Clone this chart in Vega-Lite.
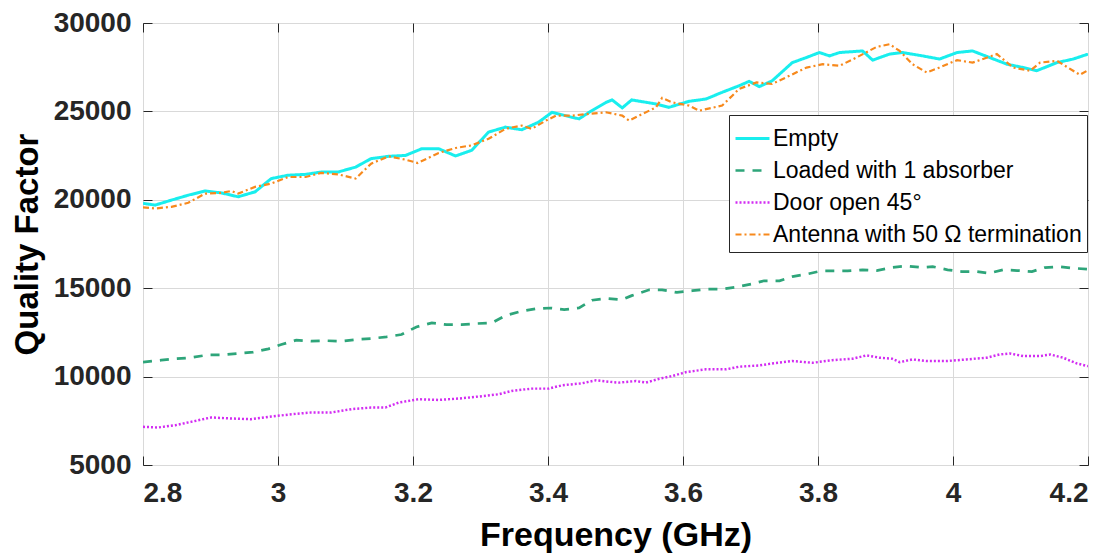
{
  "$schema": "https://vega.github.io/schema/vega-lite/v6.json",
  "width": 945,
  "height": 442,
  "autosize": {"type": "none"},
  "padding": {"left": 143, "top": 23, "right": 29, "bottom": 90},
  "background": "white",
  "config": {
    "view": {"stroke": "#262626", "strokeWidth": 1},
    "font": "Arial",
    "axis": {
      "labelFont": "Arial",
      "labelFontWeight": "bold",
      "labelFontSize": 28,
      "labelColor": "#262626",
      "titleFont": "Arial",
      "titleFontWeight": "bold",
      "titleColor": "#000000",
      "tickColor": "#262626",
      "tickWidth": 1,
      "domain": false,
      "gridColor": "#d9d9d9",
      "gridWidth": 1
    },
    "legend": {
      "orient": "none",
      "legendX": 586,
      "legendY": 92,
      "title": null,
      "labelFont": "Arial",
      "labelFontSize": 23,
      "labelColor": "#000000",
      "labelLimit": 600,
      "symbolType": "stroke",
      "symbolSize": 1156,
      "labelOffset": 2,
      "fillColor": "white",
      "strokeColor": "#262626",
      "padding": 5,
      "rowPadding": 1
    }
  },
  "data": {
    "values": [
      {"series": "Empty", "f": 2.800, "q": 19800},
      {"series": "Empty", "f": 2.818, "q": 19700},
      {"series": "Empty", "f": 2.842, "q": 19980},
      {"series": "Empty", "f": 2.867, "q": 20260},
      {"series": "Empty", "f": 2.892, "q": 20500},
      {"series": "Empty", "f": 2.916, "q": 20390},
      {"series": "Empty", "f": 2.941, "q": 20170},
      {"series": "Empty", "f": 2.966, "q": 20450},
      {"series": "Empty", "f": 2.990, "q": 21200},
      {"series": "Empty", "f": 3.015, "q": 21390},
      {"series": "Empty", "f": 3.041, "q": 21440},
      {"series": "Empty", "f": 3.064, "q": 21570},
      {"series": "Empty", "f": 3.089, "q": 21570},
      {"series": "Empty", "f": 3.115, "q": 21850},
      {"series": "Empty", "f": 3.138, "q": 22330},
      {"series": "Empty", "f": 3.164, "q": 22460},
      {"series": "Empty", "f": 3.189, "q": 22510},
      {"series": "Empty", "f": 3.213, "q": 22890},
      {"series": "Empty", "f": 3.238, "q": 22890},
      {"series": "Empty", "f": 3.263, "q": 22480},
      {"series": "Empty", "f": 3.287, "q": 22800},
      {"series": "Empty", "f": 3.312, "q": 23830},
      {"series": "Empty", "f": 3.337, "q": 24110},
      {"series": "Empty", "f": 3.361, "q": 23960},
      {"series": "Empty", "f": 3.386, "q": 24390},
      {"series": "Empty", "f": 3.406, "q": 24950},
      {"series": "Empty", "f": 3.435, "q": 24670},
      {"series": "Empty", "f": 3.446, "q": 24580},
      {"series": "Empty", "f": 3.461, "q": 24950},
      {"series": "Empty", "f": 3.486, "q": 25510},
      {"series": "Empty", "f": 3.495, "q": 25650},
      {"series": "Empty", "f": 3.510, "q": 25200},
      {"series": "Empty", "f": 3.524, "q": 25650},
      {"series": "Empty", "f": 3.560, "q": 25420},
      {"series": "Empty", "f": 3.579, "q": 25230},
      {"series": "Empty", "f": 3.609, "q": 25570},
      {"series": "Empty", "f": 3.634, "q": 25700},
      {"series": "Empty", "f": 3.658, "q": 26080},
      {"series": "Empty", "f": 3.683, "q": 26450},
      {"series": "Empty", "f": 3.698, "q": 26700},
      {"series": "Empty", "f": 3.713, "q": 26400},
      {"series": "Empty", "f": 3.732, "q": 26730},
      {"series": "Empty", "f": 3.762, "q": 27760},
      {"series": "Empty", "f": 3.783, "q": 28050},
      {"series": "Empty", "f": 3.802, "q": 28330},
      {"series": "Empty", "f": 3.817, "q": 28140},
      {"series": "Empty", "f": 3.832, "q": 28330},
      {"series": "Empty", "f": 3.866, "q": 28420},
      {"series": "Empty", "f": 3.881, "q": 27900},
      {"series": "Empty", "f": 3.906, "q": 28240},
      {"series": "Empty", "f": 3.925, "q": 28330},
      {"series": "Empty", "f": 3.955, "q": 28140},
      {"series": "Empty", "f": 3.980, "q": 27960},
      {"series": "Empty", "f": 4.006, "q": 28330},
      {"series": "Empty", "f": 4.029, "q": 28420},
      {"series": "Empty", "f": 4.054, "q": 28050},
      {"series": "Empty", "f": 4.080, "q": 27670},
      {"series": "Empty", "f": 4.104, "q": 27480},
      {"series": "Empty", "f": 4.124, "q": 27300},
      {"series": "Empty", "f": 4.154, "q": 27760},
      {"series": "Empty", "f": 4.178, "q": 27960},
      {"series": "Empty", "f": 4.200, "q": 28240},

      {"series": "Loaded with 1 absorber", "f": 2.800, "q": 10820},
      {"series": "Loaded with 1 absorber", "f": 2.827, "q": 10930},
      {"series": "Loaded with 1 absorber", "f": 2.849, "q": 11010},
      {"series": "Loaded with 1 absorber", "f": 2.871, "q": 11070},
      {"series": "Loaded with 1 absorber", "f": 2.897, "q": 11235},
      {"series": "Loaded with 1 absorber", "f": 2.919, "q": 11235},
      {"series": "Loaded with 1 absorber", "f": 2.941, "q": 11310},
      {"series": "Loaded with 1 absorber", "f": 2.963, "q": 11380},
      {"series": "Loaded with 1 absorber", "f": 2.986, "q": 11570},
      {"series": "Loaded with 1 absorber", "f": 3.005, "q": 11815},
      {"series": "Loaded with 1 absorber", "f": 3.027, "q": 12060},
      {"series": "Loaded with 1 absorber", "f": 3.049, "q": 12000},
      {"series": "Loaded with 1 absorber", "f": 3.072, "q": 12030},
      {"series": "Loaded with 1 absorber", "f": 3.094, "q": 12000},
      {"series": "Loaded with 1 absorber", "f": 3.116, "q": 12100},
      {"series": "Loaded with 1 absorber", "f": 3.138, "q": 12150},
      {"series": "Loaded with 1 absorber", "f": 3.161, "q": 12250},
      {"series": "Loaded with 1 absorber", "f": 3.183, "q": 12380},
      {"series": "Loaded with 1 absorber", "f": 3.205, "q": 12810},
      {"series": "Loaded with 1 absorber", "f": 3.228, "q": 13040},
      {"series": "Loaded with 1 absorber", "f": 3.250, "q": 12940},
      {"series": "Loaded with 1 absorber", "f": 3.272, "q": 12940},
      {"series": "Loaded with 1 absorber", "f": 3.294, "q": 13000},
      {"series": "Loaded with 1 absorber", "f": 3.317, "q": 13040},
      {"series": "Loaded with 1 absorber", "f": 3.337, "q": 13450},
      {"series": "Loaded with 1 absorber", "f": 3.360, "q": 13690},
      {"series": "Loaded with 1 absorber", "f": 3.382, "q": 13840},
      {"series": "Loaded with 1 absorber", "f": 3.404, "q": 13880},
      {"series": "Loaded with 1 absorber", "f": 3.424, "q": 13790},
      {"series": "Loaded with 1 absorber", "f": 3.446, "q": 13880},
      {"series": "Loaded with 1 absorber", "f": 3.465, "q": 14320},
      {"series": "Loaded with 1 absorber", "f": 3.486, "q": 14420},
      {"series": "Loaded with 1 absorber", "f": 3.510, "q": 14350},
      {"series": "Loaded with 1 absorber", "f": 3.524, "q": 14580},
      {"series": "Loaded with 1 absorber", "f": 3.550, "q": 14910},
      {"series": "Loaded with 1 absorber", "f": 3.569, "q": 14910},
      {"series": "Loaded with 1 absorber", "f": 3.591, "q": 14760},
      {"series": "Loaded with 1 absorber", "f": 3.614, "q": 14860},
      {"series": "Loaded with 1 absorber", "f": 3.636, "q": 14950},
      {"series": "Loaded with 1 absorber", "f": 3.658, "q": 14950},
      {"series": "Loaded with 1 absorber", "f": 3.679, "q": 15060},
      {"series": "Loaded with 1 absorber", "f": 3.701, "q": 15230},
      {"series": "Loaded with 1 absorber", "f": 3.720, "q": 15420},
      {"series": "Loaded with 1 absorber", "f": 3.743, "q": 15420},
      {"series": "Loaded with 1 absorber", "f": 3.762, "q": 15660},
      {"series": "Loaded with 1 absorber", "f": 3.784, "q": 15800},
      {"series": "Loaded with 1 absorber", "f": 3.805, "q": 15980},
      {"series": "Loaded with 1 absorber", "f": 3.824, "q": 15980},
      {"series": "Loaded with 1 absorber", "f": 3.844, "q": 15980},
      {"series": "Loaded with 1 absorber", "f": 3.866, "q": 16040},
      {"series": "Loaded with 1 absorber", "f": 3.887, "q": 16000},
      {"series": "Loaded with 1 absorber", "f": 3.909, "q": 16170},
      {"series": "Loaded with 1 absorber", "f": 3.931, "q": 16260},
      {"series": "Loaded with 1 absorber", "f": 3.954, "q": 16170},
      {"series": "Loaded with 1 absorber", "f": 3.970, "q": 16220},
      {"series": "Loaded with 1 absorber", "f": 3.992, "q": 16040},
      {"series": "Loaded with 1 absorber", "f": 4.013, "q": 15940},
      {"series": "Loaded with 1 absorber", "f": 4.035, "q": 15940},
      {"series": "Loaded with 1 absorber", "f": 4.054, "q": 15850},
      {"series": "Loaded with 1 absorber", "f": 4.074, "q": 16040},
      {"series": "Loaded with 1 absorber", "f": 4.095, "q": 16000},
      {"series": "Loaded with 1 absorber", "f": 4.117, "q": 15940},
      {"series": "Loaded with 1 absorber", "f": 4.136, "q": 16170},
      {"series": "Loaded with 1 absorber", "f": 4.158, "q": 16220},
      {"series": "Loaded with 1 absorber", "f": 4.178, "q": 16130},
      {"series": "Loaded with 1 absorber", "f": 4.200, "q": 16080},

      {"series": "Door open 45°", "f": 2.800, "q": 7160},
      {"series": "Door open 45°", "f": 2.822, "q": 7120},
      {"series": "Door open 45°", "f": 2.848, "q": 7250},
      {"series": "Door open 45°", "f": 2.871, "q": 7440},
      {"series": "Door open 45°", "f": 2.901, "q": 7690},
      {"series": "Door open 45°", "f": 2.931, "q": 7630},
      {"series": "Door open 45°", "f": 2.960, "q": 7590},
      {"series": "Door open 45°", "f": 2.990, "q": 7740},
      {"series": "Door open 45°", "f": 3.020, "q": 7870},
      {"series": "Door open 45°", "f": 3.049, "q": 7970},
      {"series": "Door open 45°", "f": 3.079, "q": 7970},
      {"series": "Door open 45°", "f": 3.109, "q": 8160},
      {"series": "Door open 45°", "f": 3.138, "q": 8250},
      {"series": "Door open 45°", "f": 3.159, "q": 8250},
      {"series": "Door open 45°", "f": 3.179, "q": 8530},
      {"series": "Door open 45°", "f": 3.208, "q": 8720},
      {"series": "Door open 45°", "f": 3.238, "q": 8680},
      {"series": "Door open 45°", "f": 3.268, "q": 8760},
      {"series": "Door open 45°", "f": 3.297, "q": 8870},
      {"series": "Door open 45°", "f": 3.327, "q": 9000},
      {"series": "Door open 45°", "f": 3.346, "q": 9190},
      {"series": "Door open 45°", "f": 3.376, "q": 9320},
      {"series": "Door open 45°", "f": 3.401, "q": 9320},
      {"series": "Door open 45°", "f": 3.421, "q": 9510},
      {"series": "Door open 45°", "f": 3.450, "q": 9620},
      {"series": "Door open 45°", "f": 3.471, "q": 9790},
      {"series": "Door open 45°", "f": 3.480, "q": 9750},
      {"series": "Door open 45°", "f": 3.495, "q": 9690},
      {"series": "Door open 45°", "f": 3.505, "q": 9660},
      {"series": "Door open 45°", "f": 3.530, "q": 9750},
      {"series": "Door open 45°", "f": 3.545, "q": 9660},
      {"series": "Door open 45°", "f": 3.565, "q": 9880},
      {"series": "Door open 45°", "f": 3.584, "q": 10030},
      {"series": "Door open 45°", "f": 3.605, "q": 10260},
      {"series": "Door open 45°", "f": 3.634, "q": 10410},
      {"series": "Door open 45°", "f": 3.664, "q": 10410},
      {"series": "Door open 45°", "f": 3.683, "q": 10560},
      {"series": "Door open 45°", "f": 3.713, "q": 10630},
      {"series": "Door open 45°", "f": 3.732, "q": 10740},
      {"series": "Door open 45°", "f": 3.762, "q": 10880},
      {"series": "Door open 45°", "f": 3.792, "q": 10780},
      {"series": "Door open 45°", "f": 3.821, "q": 10930},
      {"series": "Door open 45°", "f": 3.851, "q": 11010},
      {"series": "Door open 45°", "f": 3.872, "q": 11200},
      {"series": "Door open 45°", "f": 3.891, "q": 11070},
      {"series": "Door open 45°", "f": 3.910, "q": 11010},
      {"series": "Door open 45°", "f": 3.921, "q": 10820},
      {"series": "Door open 45°", "f": 3.940, "q": 10970},
      {"series": "Door open 45°", "f": 3.961, "q": 10880},
      {"series": "Door open 45°", "f": 3.991, "q": 10880},
      {"series": "Door open 45°", "f": 4.020, "q": 10970},
      {"series": "Door open 45°", "f": 4.050, "q": 11070},
      {"series": "Door open 45°", "f": 4.069, "q": 11250},
      {"series": "Door open 45°", "f": 4.084, "q": 11310},
      {"series": "Door open 45°", "f": 4.104, "q": 11160},
      {"series": "Door open 45°", "f": 4.129, "q": 11160},
      {"series": "Door open 45°", "f": 4.144, "q": 11250},
      {"series": "Door open 45°", "f": 4.163, "q": 11070},
      {"series": "Door open 45°", "f": 4.184, "q": 10740},
      {"series": "Door open 45°", "f": 4.200, "q": 10590},

      {"series": "Antenna with 50 Ω termination", "f": 2.800, "q": 19570},
      {"series": "Antenna with 50 Ω termination", "f": 2.818, "q": 19510},
      {"series": "Antenna with 50 Ω termination", "f": 2.842, "q": 19600},
      {"series": "Antenna with 50 Ω termination", "f": 2.867, "q": 19830},
      {"series": "Antenna with 50 Ω termination", "f": 2.892, "q": 20350},
      {"series": "Antenna with 50 Ω termination", "f": 2.916, "q": 20390},
      {"series": "Antenna with 50 Ω termination", "f": 2.931, "q": 20500},
      {"series": "Antenna with 50 Ω termination", "f": 2.941, "q": 20350},
      {"series": "Antenna with 50 Ω termination", "f": 2.966, "q": 20730},
      {"series": "Antenna with 50 Ω termination", "f": 2.990, "q": 20920},
      {"series": "Antenna with 50 Ω termination", "f": 3.015, "q": 21290},
      {"series": "Antenna with 50 Ω termination", "f": 3.041, "q": 21290},
      {"series": "Antenna with 50 Ω termination", "f": 3.064, "q": 21520},
      {"series": "Antenna with 50 Ω termination", "f": 3.089, "q": 21440},
      {"series": "Antenna with 50 Ω termination", "f": 3.115, "q": 21200},
      {"series": "Antenna with 50 Ω termination", "f": 3.138, "q": 22045},
      {"series": "Antenna with 50 Ω termination", "f": 3.164, "q": 22460},
      {"series": "Antenna with 50 Ω termination", "f": 3.189, "q": 22270},
      {"series": "Antenna with 50 Ω termination", "f": 3.207, "q": 22080},
      {"series": "Antenna with 50 Ω termination", "f": 3.238, "q": 22650},
      {"series": "Antenna with 50 Ω termination", "f": 3.263, "q": 22930},
      {"series": "Antenna with 50 Ω termination", "f": 3.287, "q": 23080},
      {"series": "Antenna with 50 Ω termination", "f": 3.312, "q": 23450},
      {"series": "Antenna with 50 Ω termination", "f": 3.337, "q": 24015},
      {"series": "Antenna with 50 Ω termination", "f": 3.361, "q": 24200},
      {"series": "Antenna with 50 Ω termination", "f": 3.376, "q": 24015},
      {"series": "Antenna with 50 Ω termination", "f": 3.397, "q": 24480},
      {"series": "Antenna with 50 Ω termination", "f": 3.412, "q": 24760},
      {"series": "Antenna with 50 Ω termination", "f": 3.435, "q": 24760},
      {"series": "Antenna with 50 Ω termination", "f": 3.461, "q": 24860},
      {"series": "Antenna with 50 Ω termination", "f": 3.486, "q": 24950},
      {"series": "Antenna with 50 Ω termination", "f": 3.510, "q": 24760},
      {"series": "Antenna with 50 Ω termination", "f": 3.520, "q": 24480},
      {"series": "Antenna with 50 Ω termination", "f": 3.535, "q": 24760},
      {"series": "Antenna with 50 Ω termination", "f": 3.560, "q": 25230},
      {"series": "Antenna with 50 Ω termination", "f": 3.569, "q": 25760},
      {"series": "Antenna with 50 Ω termination", "f": 3.584, "q": 25510},
      {"series": "Antenna with 50 Ω termination", "f": 3.609, "q": 25330},
      {"series": "Antenna with 50 Ω termination", "f": 3.624, "q": 25040},
      {"series": "Antenna with 50 Ω termination", "f": 3.658, "q": 25330},
      {"series": "Antenna with 50 Ω termination", "f": 3.673, "q": 25890},
      {"series": "Antenna with 50 Ω termination", "f": 3.683, "q": 26270},
      {"series": "Antenna with 50 Ω termination", "f": 3.709, "q": 26640},
      {"series": "Antenna with 50 Ω termination", "f": 3.732, "q": 26550},
      {"series": "Antenna with 50 Ω termination", "f": 3.758, "q": 27020},
      {"series": "Antenna with 50 Ω termination", "f": 3.783, "q": 27480},
      {"series": "Antenna with 50 Ω termination", "f": 3.807, "q": 27670},
      {"series": "Antenna with 50 Ω termination", "f": 3.832, "q": 27580},
      {"series": "Antenna with 50 Ω termination", "f": 3.857, "q": 28050},
      {"series": "Antenna with 50 Ω termination", "f": 3.887, "q": 28650},
      {"series": "Antenna with 50 Ω termination", "f": 3.906, "q": 28800},
      {"series": "Antenna with 50 Ω termination", "f": 3.921, "q": 28420},
      {"series": "Antenna with 50 Ω termination", "f": 3.940, "q": 27670},
      {"series": "Antenna with 50 Ω termination", "f": 3.961, "q": 27200},
      {"series": "Antenna with 50 Ω termination", "f": 3.980, "q": 27480},
      {"series": "Antenna with 50 Ω termination", "f": 4.006, "q": 27900},
      {"series": "Antenna with 50 Ω termination", "f": 4.029, "q": 27760},
      {"series": "Antenna with 50 Ω termination", "f": 4.065, "q": 28240},
      {"series": "Antenna with 50 Ω termination", "f": 4.089, "q": 27480},
      {"series": "Antenna with 50 Ω termination", "f": 4.114, "q": 27300},
      {"series": "Antenna with 50 Ω termination", "f": 4.129, "q": 27760},
      {"series": "Antenna with 50 Ω termination", "f": 4.154, "q": 27860},
      {"series": "Antenna with 50 Ω termination", "f": 4.178, "q": 27300},
      {"series": "Antenna with 50 Ω termination", "f": 4.188, "q": 27070},
      {"series": "Antenna with 50 Ω termination", "f": 4.200, "q": 27330}
    ]
  },
  "layer": [
    {
      "mark": {"type": "line", "clip": true},
      "encoding": {
        "x": {
          "field": "f",
          "type": "quantitative",
          "scale": {"domain": [2.8, 4.2], "nice": false, "zero": false},
          "axis": {
            "orient": "bottom",
            "values": [2.8, 3.0, 3.2, 3.4, 3.6, 3.8, 4.0, 4.2],
            "format": "~g",
            "title": "Frequency (GHz)",
            "titleFontSize": 34,
            "titleBaseline": "alphabetic",
            "titleY": 80,
            "tickSize": -9,
            "labelPadding": 23,
            "grid": true
          }
        },
        "y": {
          "field": "q",
          "type": "quantitative",
          "scale": {"domain": [5000, 30000], "nice": false, "zero": false},
          "axis": {
            "orient": "left",
            "values": [5000, 10000, 15000, 20000, 25000, 30000],
            "format": "d",
            "title": "Quality Factor",
            "titleFontSize": 33,
            "titleBaseline": "middle",
            "titleX": -116,
            "tickSize": -9,
            "labelPadding": 21,
            "grid": true
          }
        },
        "color": {
          "field": "series",
          "type": "nominal",
          "sort": null,
          "scale": {
            "domain": ["Empty", "Loaded with 1 absorber", "Door open 45°", "Antenna with 50 Ω termination"],
            "range": ["#19EEEE", "#2EA57A", "#D22CF2", "#F7891C"]
          }
        },
        "strokeDash": {
          "field": "series",
          "type": "nominal",
          "sort": null,
          "scale": {
            "domain": ["Empty", "Loaded with 1 absorber", "Door open 45°", "Antenna with 50 Ω termination"],
            "range": [[1, 0], [9, 8], [2, 2], [6, 3, 2, 3]]
          }
        },
        "strokeWidth": {
          "field": "series",
          "type": "nominal",
          "sort": null,
          "scale": {
            "domain": ["Empty", "Loaded with 1 absorber", "Door open 45°", "Antenna with 50 Ω termination"],
            "range": [3, 2.2, 2.5, 1.8]
          }
        }
      }
    },
    {
      "mark": {"type": "point", "opacity": 0},
      "encoding": {
        "x": {
          "field": "f",
          "type": "quantitative",
          "axis": {
            "orient": "top",
            "values": [2.8, 3.0, 3.2, 3.4, 3.6, 3.8, 4.0, 4.2],
            "labels": false,
            "title": null,
            "tickSize": -9,
            "grid": false
          }
        },
        "y": {
          "field": "q",
          "type": "quantitative",
          "axis": {
            "orient": "right",
            "values": [5000, 10000, 15000, 20000, 25000, 30000],
            "labels": false,
            "title": null,
            "tickSize": -9,
            "grid": false
          }
        }
      }
    }
  ],
  "resolve": {"axis": {"x": "independent", "y": "independent"}}
}
